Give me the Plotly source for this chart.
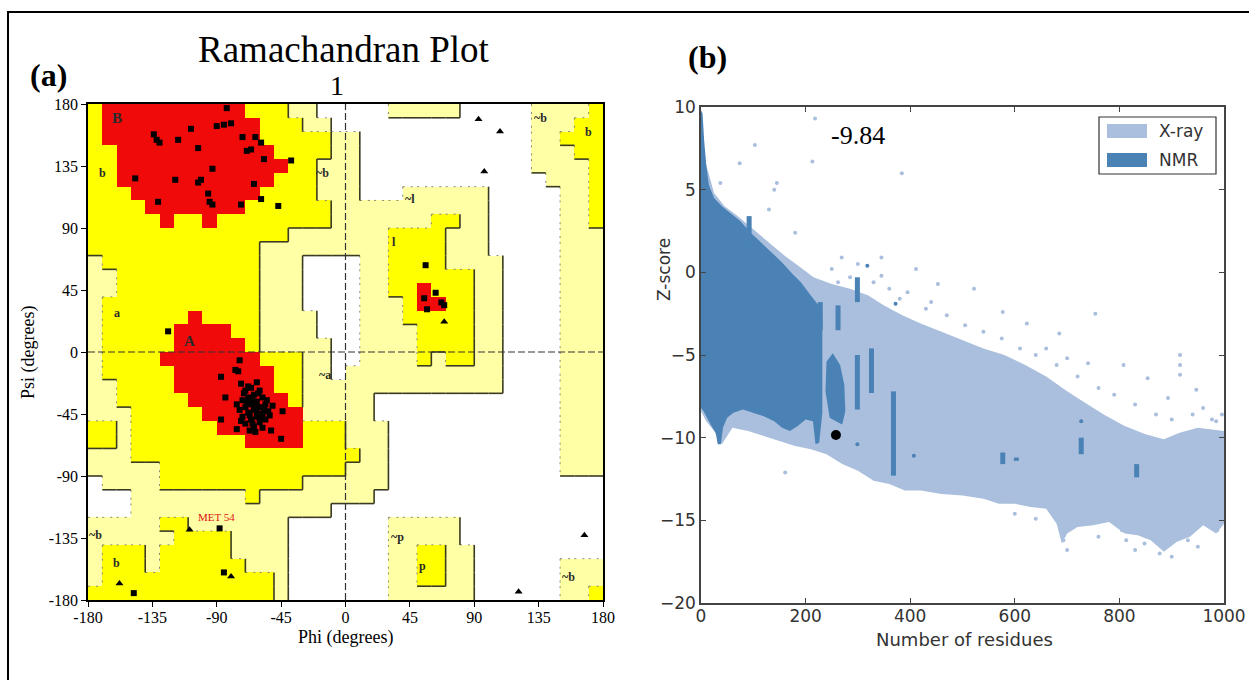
import plotly.graph_objects as go

FIG_W, FIG_H = 1249, 680

# ---------------------------------------------------------------- panel (a)
ANGLE_TICKS = [-180, -135, -90, -45, 0, 45, 90, 135, 180]
ANGLE_TICK_TEXT = ["-180", "-135", "-90", "-45", "0", "45", "90", "135", "180"]

# Region class of every 10x10 degree cell, one row per psi band from +180 down
# to -180, phi running from -180 to +180.  Run-length coded:
# R = core, Y = allowed, y = generously allowed, . = disallowed.
REGION_ROWS = [
    "Y1 R10 Y3 y2 .2 .3 y5 .5 y4 Y1",
    "Y1 R11 Y3 y2 .1 .13 y3 Y2",
    "Y1 R11 Y5 y1 y1 .12 y2 Y3",
    "Y2 R11 Y4 y1 y1 .12 y3 Y2",
    "Y2 R12 Y2 y2 y1 .12 y4 Y1",
    "Y2 R11 Y3 y2 y1 .13 y3 Y1",
    "Y3 R9 Y4 y2 y1 .3 y6 .5 y2 Y1",
    "Y4 R7 Y6 y1 y10 .5 y2 Y1",
    "Y5 R1 Y2 R1 Y8 y1 y6 Y2 y2 .5 y2 Y1",
    "Y14 y4 y3 Y4 y3 .5 y3",
    "Y12 y6 y3 Y4 y3 .5 y3",
    "y1 Y11 y3 .3 .1 y2 Y4 y4 .4 y3",
    "y2 Y10 y3 .3 .1 y2 Y6 y2 .4 y3",
    "y2 Y10 y3 .3 .1 y2 Y2 R1 Y3 y2 .4 y3",
    "y1 Y11 y3 .3 .1 y3 Y1 R2 Y2 y2 .4 y3",
    "y1 Y6 R1 Y4 y4 .2 .1 y3 Y5 y2 .4 y3",
    "y1 Y5 R4 Y2 y4 .2 .1 y4 Y4 y2 .4 y3",
    "y1 Y5 R5 Y1 y5 .1 .1 y4 Y4 y2 .4 y3",
    "y1 Y4 R7 Y3 y2 .1 .1 y4 Y1 y1 Y2 y2 .4 y3",
    "y1 Y5 R7 Y2 y2 .1 y11 .4 y3",
    "y2 Y4 R7 Y2 y3 y11 .4 y3",
    "y2 Y5 R7 Y1 y3 y2 .13 y3",
    "y3 Y5 R7 y3 y2 .13 y3",
    "Y2 y1 Y6 R6 Y3 y3 .12 y3",
    "Y2 y1 Y8 R4 Y3 y3 .12 y3",
    "y3 Y15 Y1 y2 .12 y3",
    "y5 Y13 y3 .12 y3",
    ".1 y4 Y10 y3 y3 .15",
    ".3 y8 Y1 y6 y2 .16",
    ".3 y14 .1 .18",
    "y5 Y2 y7 .4 .3 y5 .10",
    "y6 Y4 y4 .4 .3 y5 .10",
    "y1 Y3 y1 Y5 y4 .4 .3 y2 Y2 y2 .9",
    "y1 Y3 y1 Y6 y3 .4 .3 y2 Y2 y2 .6 y3",
    "y1 Y12 y1 .4 .3 y2 Y2 y2 .6 y3",
    "Y13 y1 .4 .3 y6 .6 y2 Y1",
]

# Non-glycine residues (squares)
RES_PHI = [-83, -90, -85, -80, -108, -134, -132, -130, -117, -103, -72, -63, -59, -69, -66,
           -57, -38, -93, -147, -119, -103, -101, -64, -96, -131, -95, -93, -73, -59, -47,
           -124, -74, -77, -75, -87, -73, -84, -51, -44, -87, -76, -52, -45,
           -62, -66, -70, -60, -64, -68, -58, -72, -62, -66, -56, -70, -60, -64, -74,
           -54, -68, -58, -62, -72, -66, -56, -60, -70, -64, -58, -67, -62, -65, -61,
           -69, -57, -63, -67, -59, -76, -53, -65, -71, -55, -63, -68, -73,
           56, 55, 63, 67, 69, 57,
           -88, -85, -148]
RES_PSI = [177, 164, 165, 166, 162, 158, 154, 152, 154, 148, 156, 156, 152, 146, 147,
           140, 139, 133, 126, 125, 123, 125, 122, 115, 109, 109, 107, 107, 111, 106,
           15, -6, -13, -14, -18, -23, -33, -39, -43, -49, -56, -57, -63,
           -22, -26, -28, -28, -31, -33, -33, -35, -36, -38, -38, -40, -40, -42, -42,
           -43, -44, -45, -47, -47, -49, -49, -51, -52, -54, -55, -57, -44, -35, -30,
           -37, -41, -39, -46, -48, -38, -46, -52, -30, -35, -58, -25, -50,
           63, 39, 43, 36, 34, 31,
           -128, -160, -175]

# Glycine residues (triangles)
GLY_PHI = [93, 108, 97, 69, -109, -80, -158, 167, 121]
GLY_PSI = [169, 160, 131, 22, -129, -163, -168, -133, -174]

REGION_LABELS = ["B", "b", "A", "a", "~b", "~a", "~l", "l", "~b", "b", "~p", "p", "~b", "b", "~b"]
REGION_LABEL_PHI = [-160, -170, -109, -160, -16, -14, 45, 34, 136, 170, 36, 54, 156, -160, -175]
REGION_LABEL_PSI = [170, 130, 8, 28, 130, -17, 111, 80, 170, 160, -134, -155, -163, -153, -133]

FLAGGED_RESIDUE = "MET 54"
FLAGGED_PHI, FLAGGED_PSI = -90, -120

# ---------------------------------------------------------------- panel (b)
XRAY_X = [0, 4, 10, 25, 45, 70, 100, 130, 160, 190, 215, 250, 285, 320, 350, 385, 420, 460,
          500, 540, 580, 620, 660, 700, 735, 770, 810, 850, 885, 915, 950, 980, 1000,
          1000, 985, 960, 935, 910, 885, 860, 835, 810, 780, 750, 720, 700, 690, 680, 660,
          630, 600, 570, 540, 500, 460, 420, 390, 360, 330, 300, 270, 240, 210, 180, 150,
          120, 90, 60, 40, 25, 10, 0]
XRAY_Z = [9.8, 8.0, 6.5, 4.8, 4.0, 3.4, 2.6, 1.8, 1.0, 0.3, -0.3, -0.7, -1.0, -1.4, -2.0,
          -2.6, -3.1, -3.6, -4.1, -4.6, -5.0, -5.6, -6.3, -7.2, -7.9, -8.6, -9.3, -9.8,
          -10.1, -9.7, -9.4, -9.5, -9.6,
          -15.2, -15.8, -15.3, -16.0, -16.3, -16.9, -16.2, -15.9, -15.8, -15.1, -15.3,
          -15.4, -15.8, -16.4, -15.2, -14.3, -14.2, -14.0, -14.0, -13.7, -13.5, -13.4,
          -13.2, -13.2, -12.8, -12.6, -12.0, -11.6, -11.0, -10.7, -10.5, -10.2, -9.9,
          -9.6, -9.4, -10.4, -9.6, -9.0, -8.4]

NMR_X = [0, 3, 6, 10, 15, 25, 40, 60, 75, 95, 115, 135, 155, 175, 191, 210, 225, 232,
         232, 226, 219, 214, 200, 185, 170, 155, 140, 120, 100, 80, 62, 50, 42, 38, 32,
         28, 20, 12, 5, 0]
NMR_Z = [9.8, 9.6, 8.0, 6.5, 5.3, 4.5, 4.0, 3.5, 3.1, 2.4, 1.8, 1.2, 0.6, -0.1, -0.6,
         -1.4, -2.0, -2.6,
         -8.5, -10.3, -10.4, -9.0, -8.9, -9.3, -9.6, -9.4, -9.0, -8.7, -8.5, -8.3, -8.5,
         -8.8, -9.4, -10.4, -10.4, -9.7, -9.3, -8.8, -8.4, -8.2]

NMR_BLOB_X = [240, 252, 266, 274, 276, 270, 258, 246, 238]
NMR_BLOB_Z = [-5.4, -4.9, -5.6, -6.8, -8.4, -9.2, -9.0, -8.8, -7.2]

NMR_STREAK_X = [92, 228, 262, 299, 299, 326, 368, 577, 603, 727, 833]
NMR_STREAK_TOP = [3.4, -1.8, -2.0, -0.3, -5.0, -4.6, -7.2, -10.9, -11.2, -10.0, -11.6]
NMR_STREAK_BOTTOM = [1.5, -3.5, -3.5, -1.8, -8.3, -7.3, -12.3, -11.6, -11.4, -11.0, -12.4]

NMR_POINT_X = [299, 407, 727, 318, 372]
NMR_POINT_Z = [-10.4, -11.1, -9.0, 0.4, -1.9]

XRAY_POINT_X = [218, 103, 213, 74, 384, 145, 37, 140, 180, 130, 269, 345, 411, 453, 522,
                577, 623, 754, 685, 660, 700, 740, 808, 854, 916, 916, 916, 947, 893, 977,
                960, 996, 161, 693, 877, 805, 931, 987, 813, 848,
                250, 262, 285, 300, 330, 345, 360, 380, 395, 430, 440, 470, 505, 540, 575,
                610, 640, 680, 720, 760, 790, 830, 870, 900, 940, 985,
                600, 640, 700, 760, 830, 900, 950]
XRAY_POINT_Z = [9.3, 7.7, 6.7, 6.6, 6.0, 5.4, 5.4, 5.0, 2.4, 3.8, 0.9, 0.9, 0.2, -0.7, -1.0,
                -2.4, -3.1, -2.5, -3.7, -4.6, -5.2, -5.5, -5.6, -6.4, -5.0, -5.6, -6.2, -7.1,
                -7.6, -8.9, -8.2, -8.6, -12.1, -16.2, -17.0, -15.6, -16.2, -15.6, -16.2, -16.4,
                0.2, -0.6, -0.3, 0.5, -0.6, -0.2, -1.0, -1.6, -1.2, -2.2, -1.8, -2.6, -3.2,
                -3.6, -4.0, -4.6, -5.0, -5.6, -6.3, -7.0, -7.4, -8.0, -8.6, -8.9, -8.6, -9.0,
                -14.6, -14.9, -16.8, -16.0, -16.8, -17.2, -16.6]

QUERY_RESIDUES = 258
QUERY_ZSCORE = -9.84

RESIDUE_TICKS = [0, 200, 400, 600, 800, 1000]
ZSCORE_TICKS = [-20, -15, -10, -5, 0, 5, 10]

SERIES_NAMES = ["X-ray", "NMR"]

# ---------------------------------------------------------------- styling
RED, YELLOW, PALE, WHITE = "#F00A0A", "#FFFF00", "#FFFFA6", "#FFFFFF"
XRAY_COLOR, NMR_COLOR = "#A9BFDD", "#4A82B6"
SERIF = "Liberation Serif"
SANS = "DejaVu Sans"
LEVEL = {".": 0, "y": 1, "Y": 2, "R": 3}


def px_x(px):
    """Pixel column -> paper x."""
    return px / FIG_W


def px_y(py):
    """Pixel row (from the top) -> paper y."""
    return 1 - py / FIG_H


def expand(row):
    cells = []
    for tok in row.split():
        cells.extend(tok[0] * int(tok[1:]))
    if len(cells) != 36:
        raise ValueError(f"row has {len(cells)} cells: {row}")
    return [LEVEL[ch] for ch in cells]


levels = [expand(r) for r in REGION_ROWS]          # levels[r][c], r = 0 at psi 180
cell_phi = [-175 + 10 * c for c in range(36)]
cell_psi = [175 - 10 * r for r in range(36)]

# Boundary segments between region classes: solid where the more permissive
# class lies left/above, dotted where it lies right/below.
solid_x, solid_y, dot_x, dot_y = [], [], [], []
for r in range(36):
    top, bot = 180 - 10 * r, 170 - 10 * r
    for c in range(35):
        a, b = levels[r][c], levels[r][c + 1]
        if a != b and 3 not in (a, b):
            x = -170 + 10 * c
            xs, ys = (solid_x, solid_y) if a > b else (dot_x, dot_y)
            xs += [x, x, None]
            ys += [top, bot, None]
for r in range(35):
    y = 170 - 10 * r
    for c in range(36):
        a, b = levels[r][c], levels[r + 1][c]
        if a != b and 3 not in (a, b):
            x0 = -180 + 10 * c
            xs, ys = (solid_x, solid_y) if a > b else (dot_x, dot_y)
            xs += [x0, x0 + 10, None]
            ys += [y, y, None]

fig = go.Figure()

fig.add_trace(go.Heatmap(
    x=cell_phi, y=cell_psi[::-1], z=levels[::-1], zmin=-0.5, zmax=3.5,
    colorscale=[[0, WHITE], [0.25, WHITE], [0.25, PALE], [0.5, PALE],
                [0.5, YELLOW], [0.75, YELLOW], [0.75, RED], [1, RED]],
    showscale=False, xaxis="x", yaxis="y", hoverinfo="skip"))

fig.add_trace(go.Scatter(x=dot_x, y=dot_y, mode="lines", xaxis="x", yaxis="y",
                         line=dict(color="#8a8a6a", width=1, dash="2px,6px"),
                         showlegend=False, hoverinfo="skip"))
fig.add_trace(go.Scatter(x=solid_x, y=solid_y, mode="lines", xaxis="x", yaxis="y",
                         line=dict(color="#3a3a22", width=1.6),
                         showlegend=False, hoverinfo="skip"))
fig.add_trace(go.Scatter(x=[0, 0, None, -180, 180], y=[-180, 180, None, 0, 0], mode="lines",
                         xaxis="x", yaxis="y",
                         line=dict(color="#333333", width=1.2, dash="7px,3px"),
                         showlegend=False, hoverinfo="skip"))
fig.add_trace(go.Scatter(x=RES_PHI, y=RES_PSI, mode="markers", xaxis="x", yaxis="y",
                         marker=dict(symbol="square", size=6, color="black"),
                         showlegend=False, hoverinfo="skip"))
fig.add_trace(go.Scatter(x=GLY_PHI, y=GLY_PSI, mode="markers", xaxis="x", yaxis="y",
                         marker=dict(symbol="triangle-up", size=7, color="black"),
                         showlegend=False, hoverinfo="skip"))

# panel (b)
fig.add_trace(go.Scatter(x=XRAY_X, y=XRAY_Z, mode="lines", fill="toself",
                         fillcolor=XRAY_COLOR, line=dict(width=0, color=XRAY_COLOR),
                         name=SERIES_NAMES[0], showlegend=False,
                         xaxis="x2", yaxis="y2", hoverinfo="skip"))
fig.add_trace(go.Scatter(x=XRAY_POINT_X, y=XRAY_POINT_Z, mode="markers", xaxis="x2", yaxis="y2",
                         marker=dict(size=4, color=XRAY_COLOR), showlegend=False,
                         hoverinfo="skip"))
fig.add_trace(go.Scatter(x=NMR_X, y=NMR_Z, mode="lines", fill="toself",
                         fillcolor=NMR_COLOR, line=dict(width=0, color=NMR_COLOR),
                         name=SERIES_NAMES[1], showlegend=False,
                         xaxis="x2", yaxis="y2", hoverinfo="skip"))
fig.add_trace(go.Scatter(x=NMR_BLOB_X, y=NMR_BLOB_Z, mode="lines", fill="toself",
                         fillcolor=NMR_COLOR, line=dict(width=0, color=NMR_COLOR),
                         showlegend=False, xaxis="x2", yaxis="y2", hoverinfo="skip"))
streak_x, streak_z = [], []
for x, t, b in zip(NMR_STREAK_X, NMR_STREAK_TOP, NMR_STREAK_BOTTOM):
    streak_x += [x, x, None]
    streak_z += [t, b, None]
fig.add_trace(go.Scatter(x=streak_x, y=streak_z, mode="lines", xaxis="x2", yaxis="y2",
                         line=dict(color=NMR_COLOR, width=5), showlegend=False,
                         hoverinfo="skip"))
fig.add_trace(go.Scatter(x=NMR_POINT_X, y=NMR_POINT_Z, mode="markers", xaxis="x2", yaxis="y2",
                         marker=dict(size=4, color=NMR_COLOR), showlegend=False,
                         hoverinfo="skip"))
fig.add_trace(go.Scatter(x=[QUERY_RESIDUES], y=[QUERY_ZSCORE], mode="markers",
                         xaxis="x2", yaxis="y2", marker=dict(size=10, color="black"),
                         showlegend=False, hoverinfo="skip"))


def note(x, y, text, font, xref="paper", yref="paper", angle=0, xanchor="center"):
    return dict(x=x, y=y, xref=xref, yref=yref, text=text, showarrow=False,
                xanchor=xanchor, yanchor="middle", textangle=angle, font=font)


annotations = []
for lab, x, y in zip(REGION_LABELS, REGION_LABEL_PHI, REGION_LABEL_PSI):
    big = lab in ("A", "B")
    annotations.append(note(x, y, f"<b>{lab}</b>",
                            dict(family=SERIF, size=15 if big else 12, color="#2a2a2a"),
                            xref="x", yref="y"))
annotations.append(note(FLAGGED_PHI, FLAGGED_PSI, FLAGGED_RESIDUE,
                        dict(family=SERIF, size=11, color="#E01010"), xref="x", yref="y"))
annotations += [
    note(px_x(344), px_y(50), "Ramachandran Plot", dict(family=SERIF, size=37, color="black")),
    note(px_x(337), px_y(85), "1", dict(family=SERIF, size=28, color="black")),
    note(px_x(48), px_y(75), "<b>(a)</b>", dict(family=SERIF, size=32, color="black")),
    note(px_x(707), px_y(57), "<b>(b)</b>", dict(family=SERIF, size=32, color="black")),
    note(px_x(345), px_y(637), "Phi (degrees)", dict(family=SERIF, size=18, color="black")),
    note(px_x(28), px_y(352), "Psi (degrees)", dict(family=SERIF, size=18, color="black"),
         angle=-90),
    note(px_x(664), px_y(270), "Z-score", dict(family=SANS, size=17, color="#333333"),
         angle=-90),
    note(px_x(964), px_y(639), "Number of residues", dict(family=SANS, size=18, color="#333333")),
    note(301, 8.25, f"{QUERY_ZSCORE:.2f}", dict(family=SERIF, size=26, color="black"),
         xref="x2", yref="y2"),
]

# Legend of panel (b): framed box with a colour patch per series
legend_rows = [(SERIES_NAMES[0], XRAY_COLOR, 131), (SERIES_NAMES[1], NMR_COLOR, 160)]
shapes = [dict(type="rect", xref="paper", yref="paper",
               x0=px_x(1099), x1=px_x(1216), y0=px_y(174), y1=px_y(117),
               line=dict(color="#333333", width=1.2), fillcolor="white", layer="above")]
for name, color, row_y in legend_rows:
    shapes.append(dict(type="rect", xref="paper", yref="paper",
                       x0=px_x(1107), x1=px_x(1147), y0=px_y(row_y + 7), y1=px_y(row_y - 7),
                       line=dict(width=0), fillcolor=color, layer="above"))
    annotations.append(note(px_x(1157), px_y(row_y), name,
                            dict(family=SANS, size=17, color="#333333"), xanchor="left"))

# Outer frame: left and top edges of the surrounding box
shapes.append(dict(type="path", xref="paper", yref="paper",
                   path=f"M {px_x(8)},0 L {px_x(8)},{px_y(12)} L 1,{px_y(12)}",
                   line=dict(color="black", width=2), layer="above"))

axis_common = dict(showgrid=False, zeroline=False, automargin=False, showline=True)

fig.update_layout(
    template="none",
    width=FIG_W, height=FIG_H, margin=dict(l=0, r=0, t=0, b=0, autoexpand=False),
    paper_bgcolor="white", plot_bgcolor="white", hovermode=False, showlegend=False,
    xaxis=dict(domain=[px_x(88), px_x(603)], range=[-180, 180], tickvals=ANGLE_TICKS,
               ticktext=ANGLE_TICK_TEXT, ticks="outside", ticklen=5, tickcolor="black",
               mirror=True, linecolor="black", linewidth=1.5, ticklabelstandoff=-3,
               tickfont=dict(family=SERIF, size=16, color="black"), **axis_common),
    yaxis=dict(domain=[px_y(600), px_y(104)], range=[-180, 180], tickvals=ANGLE_TICKS,
               ticktext=ANGLE_TICK_TEXT, ticks="outside", ticklen=5, tickcolor="black",
               mirror=True, linecolor="black", linewidth=1.5,
               tickfont=dict(family=SERIF, size=16, color="black"), **axis_common),
    xaxis2=dict(domain=[px_x(701), px_x(1224)], range=[0, 1000], tickvals=RESIDUE_TICKS,
                ticks="inside", ticklen=5, tickcolor="#444444", anchor="y2",
                mirror="allticks", linecolor="#444444", linewidth=1.5, ticklabelstandoff=-3,
                tickfont=dict(family=SANS, size=17, color="#333333"), **axis_common),
    yaxis2=dict(domain=[px_y(603), px_y(107)], range=[-20, 10], tickvals=ZSCORE_TICKS,
                ticks="inside", ticklen=5, tickcolor="#444444", anchor="x2",
                mirror="allticks", linecolor="#444444", linewidth=1.5,
                tickfont=dict(family=SANS, size=17, color="#333333"), **axis_common),
    annotations=annotations,
    shapes=shapes,
)

fig.write_html("out.html")
